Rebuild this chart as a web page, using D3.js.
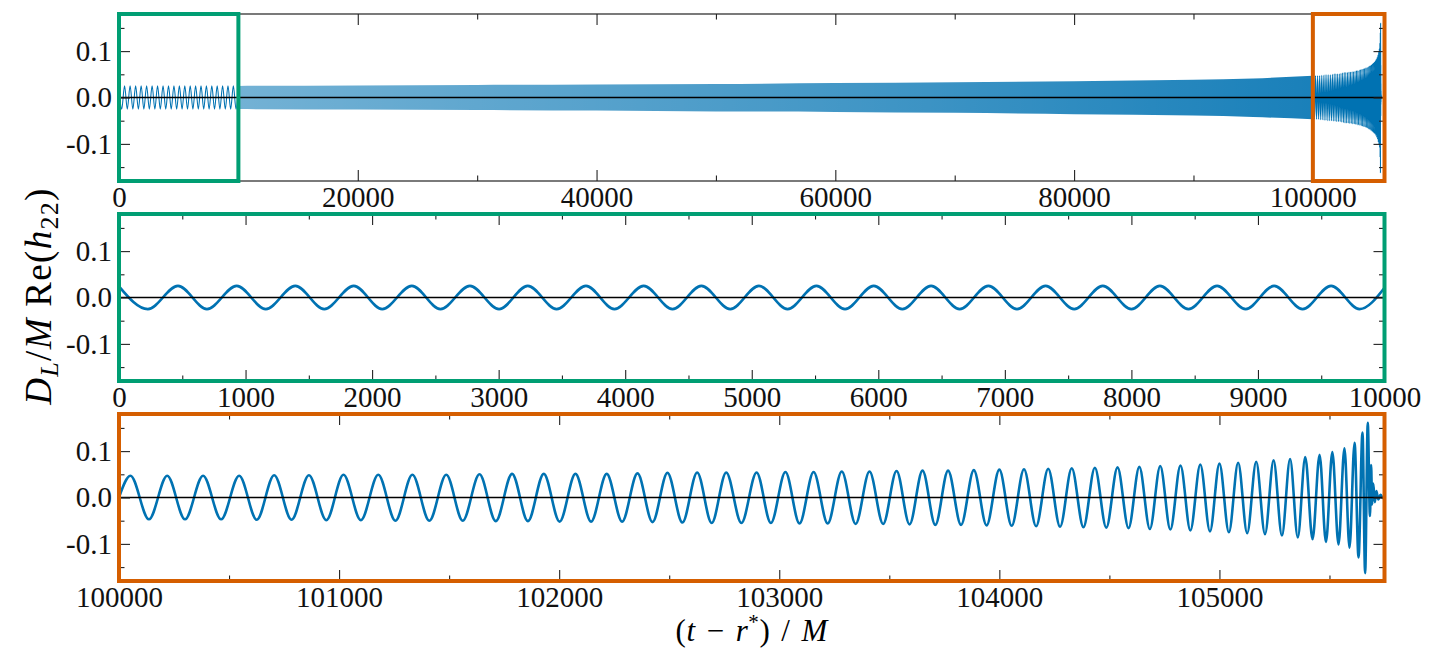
<!DOCTYPE html>
<html><head><meta charset="utf-8">
<script src="https://cdn.jsdelivr.net/npm/d3@7"></script>
<style>
body{margin:0;background:#fff;}
svg{display:block;font-family:"Liberation Serif","Times New Roman",serif;}
</style></head><body>
<svg id="chart" width="1444" height="648"></svg>
<script>
// ---------- tick values ----------
const yMajorTicks = [-0.1, 0.0, 0.1];
const yMinorTicks = [-0.15, -0.05, 0.05, 0.15];
const topMajorTicks = [0, 20000, 40000, 60000, 80000, 100000];
const topMinorTicks = [10000, 30000, 50000, 70000, 90000];
const midMajorTicks = [0, 1000, 2000, 3000, 4000, 5000, 6000, 7000, 8000, 9000, 10000];
const midMinorTicks = [500, 1500, 2500, 3500, 4500, 5500, 6500, 7500, 8500, 9500];
const lowMajorTicks = [100000, 101000, 102000, 103000, 104000, 105000];
const lowMinorTicks = [100500, 101500, 102500, 103500, 104500, 105500];

// ---------- early inspiral (0 - 10000): extrema ----------
const earlyT = [0, 228, 466, 695, 930, 1160, 1393, 1622, 1855, 2080, 2314, 2540, 2773, 3003, 3230, 3458,
  3690, 3915, 4146, 4374, 4602, 4830, 5057, 5283, 5511, 5737, 5964, 6190, 6417, 6643, 6870, 7096,
  7322, 7548, 7774, 8000, 8225, 8451, 8677, 8903, 9128, 9353, 9578, 9803, 10000];
const earlyH = [0.024, -0.025, 0.025, -0.025, 0.025, -0.025, 0.025, -0.025, 0.025, -0.025, 0.025, -0.025,
  0.025, -0.025, 0.025, -0.025, 0.025, -0.025, 0.025, -0.025, 0.025, -0.025, 0.025, -0.025, 0.025, -0.025,
  0.025, -0.025, 0.025, -0.025, 0.025, -0.025, 0.025, -0.025, 0.025, -0.025, 0.025, -0.025, 0.025, -0.025,
  0.025, -0.025, 0.025, -0.025, 0.021];

// ---------- late inspiral / merger (100000 - 105750): extrema ----------
const lateT = [100000,
  100052, 100136, 100219, 100300, 100382, 100464, 100546, 100626, 100705, 100784,
  100863, 100942, 101020, 101099, 101178, 101256, 101333, 101410, 101487, 101562,
  101638, 101712, 101786, 101858, 101930, 102002, 102074, 102145, 102216, 102286,
  102356, 102424, 102492, 102560, 102627, 102693, 102759, 102828, 102897, 102962,
  103028, 103092, 103156, 103220, 103284, 103347, 103410, 103472, 103533, 103592,
  103651, 103709, 103767, 103826, 103884, 103942, 104000, 104056, 104112, 104167,
  104222, 104276, 104329, 104382, 104434, 104486, 104537, 104587, 104636, 104684,
  104731, 104777, 104823, 104868, 104913, 104957, 105000, 105043, 105085, 105126,
  105167, 105207, 105246, 105284, 105321, 105356, 105390, 105423, 105455, 105484,
  105513, 105541, 105568, 105591, 105614, 105632, 105650, 105662,
  105674,
  105684, 105689, 105694, 105699, 105706, 105713, 105722, 105732, 105742, 105750];
const lateH = [0,
  0.047, -0.047, 0.047, -0.047, 0.047, -0.047, 0.047, -0.048, 0.048, -0.048,
  0.048, -0.049, 0.049, -0.049, 0.049, -0.050, 0.049, -0.050, 0.049, -0.050,
  0.050, -0.051, 0.051, -0.051, 0.051, -0.052, 0.051, -0.052, 0.051, -0.052,
  0.052, -0.053, 0.053, -0.054, 0.054, -0.055, 0.054, -0.055, 0.054, -0.055,
  0.055, -0.056, 0.055, -0.056, 0.056, -0.057, 0.056, -0.057, 0.057, -0.058,
  0.058, -0.059, 0.058, -0.059, 0.059, -0.060, 0.060, -0.061, 0.061, -0.062,
  0.062, -0.063, 0.063, -0.064, 0.064, -0.065, 0.065, -0.066, 0.066, -0.068,
  0.068, -0.069, 0.069, -0.071, 0.071, -0.073, 0.073, -0.075, 0.075, -0.077,
  0.077, -0.079, 0.080, -0.082, 0.083, -0.086, 0.087, -0.090, 0.092, -0.096,
  0.098, -0.101, 0.106, -0.108, 0.118, -0.129, 0.140, -0.163,
  0.161,
  -0.040, 0.070, -0.015, 0.030, -0.010, 0.014, -0.004, 0.006, -0.001, 0];

// ---------- dense middle section of the full waveform: envelope ----------
const bandT  = [10000, 20000, 30000, 40000, 50000, 60000, 70000, 80000, 90000, 95000, 100000];
const bandHi = [0.025, 0.026, 0.027, 0.028, 0.029, 0.031, 0.033, 0.035, 0.038, 0.041, 0.047];
const bandLo = [-0.025, -0.026, -0.027, -0.028, -0.030, -0.031, -0.033, -0.036, -0.039, -0.042, -0.047];

// ---------- layout ----------
const L = 119, R = 1384.5;
const panels = [{top: 14, bottom: 181}, {top: 214, bottom: 381}, {top: 414, bottom: 581}];
const BLUE = "#0072b2", GREEN = "#009e73", ORANGE = "#d55e00";
const TICKC = "#222";
const MAJ = 11, MIN = 5.5;
const TICKFONT = 29;

const svg = d3.select("#chart");

const xTop = d3.scaleLinear().domain([0, 106000]).range([L, R]);
const xMid = d3.scaleLinear().domain([0, 10000]).range([L, R]);
const xLow = d3.scaleLinear().domain([100000, 105750]).range([L, R]);
const yScales = panels.map(p => d3.scaleLinear().domain([-0.18, 0.18]).range([p.bottom, p.top]));

const early = earlyT.map((t, i) => [t, earlyH[i]]);
const late = lateT.map((t, i) => [t, lateH[i]]);
const band = bandT.map((t, i) => [t, bandHi[i], bandLo[i]]);

const defs = svg.append("defs");
panels.forEach((p, i) => {
  defs.append("clipPath").attr("id", "clip" + i)
    .append("rect").attr("x", L).attr("y", p.top).attr("width", R - L).attr("height", p.bottom - p.top);
});
const grad = defs.append("linearGradient").attr("id", "bandFill")
  .attr("gradientUnits", "userSpaceOnUse")
  .attr("x1", xTop(10000)).attr("x2", xTop(100000)).attr("y1", 0).attr("y2", 0);
grad.append("stop").attr("offset", 0).attr("stop-color", BLUE).attr("stop-opacity", 0.55);
grad.append("stop").attr("offset", 0.6).attr("stop-color", BLUE).attr("stop-opacity", 0.75);
grad.append("stop").attr("offset", 1).attr("stop-color", BLUE).attr("stop-opacity", 0.9);

function fmtInt(d) { return String(d); }

function drawAxes(g, x, y, p, major, minor) {
  const styleAxis = sel => {
    sel.select(".domain").remove();
    sel.selectAll(".tick line").attr("stroke", TICKC).attr("stroke-width", 1.1);
    sel.selectAll(".tick text").attr("fill", "#111");
    sel.attr("font-family", null).attr("font-size", TICKFONT);
  };
  g.append("g").attr("transform", `translate(0,${p.bottom})`)
    .call(d3.axisBottom(x).tickValues(major).tickSize(-MAJ).tickPadding(5.5).tickFormat(fmtInt)).call(styleAxis);
  g.append("g").attr("transform", `translate(0,${p.bottom})`)
    .call(d3.axisBottom(x).tickValues(minor).tickSize(-MIN).tickFormat("")).call(styleAxis);
  g.append("g").attr("transform", `translate(0,${p.top})`)
    .call(d3.axisTop(x).tickValues(major).tickSize(-MAJ).tickFormat("")).call(styleAxis);
  g.append("g").attr("transform", `translate(0,${p.top})`)
    .call(d3.axisTop(x).tickValues(minor).tickSize(-MIN).tickFormat("")).call(styleAxis);
  g.append("g").attr("transform", `translate(${L},0)`)
    .call(d3.axisLeft(y).tickValues(yMajorTicks).tickSize(-MAJ).tickPadding(7).tickFormat(d => d.toFixed(1))).call(styleAxis);
  g.append("g").attr("transform", `translate(${L},0)`)
    .call(d3.axisLeft(y).tickValues(yMinorTicks).tickSize(-MIN).tickFormat("")).call(styleAxis);
  g.append("g").attr("transform", `translate(${R},0)`)
    .call(d3.axisRight(y).tickValues(yMajorTicks).tickSize(-MAJ).tickFormat("")).call(styleAxis);
  g.append("g").attr("transform", `translate(${R},0)`)
    .call(d3.axisRight(y).tickValues(yMinorTicks).tickSize(-MIN).tickFormat("")).call(styleAxis);
}

// ---------- panel 1: full waveform ----------
{
  const p = panels[0], y = yScales[0], x = xTop;
  const g = svg.append("g");
  const plot = g.append("g").attr("clip-path", "url(#clip0)");
  const line = d3.line().x(d => x(d[0])).y(d => y(d[1])).curve(d3.curveMonotoneX);
  plot.append("path").datum(early).attr("d", line).attr("fill", "none").attr("stroke", BLUE).attr("stroke-width", 1.1);
  plot.append("path").datum(band)
    .attr("d", d3.area().x(d => x(d[0])).y0(d => y(d[2])).y1(d => y(d[1])).curve(d3.curveMonotoneX))
    .attr("fill", "url(#bandFill)");
  plot.append("path").datum(late).attr("d", line).attr("fill", "none").attr("stroke", BLUE).attr("stroke-width", 1.1);
  g.append("line").attr("x1", L).attr("x2", R).attr("y1", y(0)).attr("y2", y(0)).attr("stroke", "#000").attr("stroke-width", 1.3);
  drawAxes(g, x, y, p, topMajorTicks, topMinorTicks);
  g.append("rect").attr("x", L).attr("y", p.top).attr("width", R - L).attr("height", p.bottom - p.top)
    .attr("fill", "none").attr("stroke", "#222").attr("stroke-width", 1.2);
  g.append("rect").attr("x", x(0)).attr("y", p.top).attr("width", x(10000) - x(0)).attr("height", p.bottom - p.top)
    .attr("fill", "none").attr("stroke", GREEN).attr("stroke-width", 4);
  g.append("rect").attr("x", x(100000)).attr("y", p.top).attr("width", R - x(100000)).attr("height", p.bottom - p.top)
    .attr("fill", "none").attr("stroke", ORANGE).attr("stroke-width", 4);
}

// ---------- panel 2: early zoom ----------
{
  const p = panels[1], y = yScales[1], x = xMid;
  const g = svg.append("g");
  const plot = g.append("g").attr("clip-path", "url(#clip1)");
  const line = d3.line().x(d => x(d[0])).y(d => y(d[1])).curve(d3.curveMonotoneX);
  plot.append("path").datum(early).attr("d", line).attr("fill", "none").attr("stroke", BLUE).attr("stroke-width", 2.6);
  g.append("line").attr("x1", L).attr("x2", R).attr("y1", y(0)).attr("y2", y(0)).attr("stroke", "#000").attr("stroke-width", 1.3);
  drawAxes(g, x, y, p, midMajorTicks, midMinorTicks);
  g.append("rect").attr("x", L).attr("y", p.top).attr("width", R - L).attr("height", p.bottom - p.top)
    .attr("fill", "none").attr("stroke", GREEN).attr("stroke-width", 4);
}

// ---------- panel 3: merger zoom ----------
{
  const p = panels[2], y = yScales[2], x = xLow;
  const g = svg.append("g");
  const plot = g.append("g").attr("clip-path", "url(#clip2)");
  const line = d3.line().x(d => x(d[0])).y(d => y(d[1])).curve(d3.curveMonotoneX);
  plot.append("path").datum(late).attr("d", line).attr("fill", "none").attr("stroke", BLUE).attr("stroke-width", 2.6);
  g.append("line").attr("x1", L).attr("x2", R).attr("y1", y(0)).attr("y2", y(0)).attr("stroke", "#000").attr("stroke-width", 1.3);
  drawAxes(g, x, y, p, lowMajorTicks, lowMinorTicks);
  g.append("rect").attr("x", L).attr("y", p.top).attr("width", R - L).attr("height", p.bottom - p.top)
    .attr("fill", "none").attr("stroke", ORANGE).attr("stroke-width", 4);
}

// ---------- axis titles ----------
const yTitle = svg.append("text")
  .attr("transform", "translate(51,296) rotate(-90)")
  .attr("text-anchor", "middle").attr("font-size", 37).attr("letter-spacing", 1.3).attr("fill", "#000");
yTitle.append("tspan").attr("font-style", "italic").text("D");
yTitle.append("tspan").attr("font-style", "italic").attr("font-size", 26).attr("dy", 7).text("L");
yTitle.append("tspan").attr("dy", -7).text("/");
yTitle.append("tspan").attr("font-style", "italic").text("M");
yTitle.append("tspan").text(" Re(");
yTitle.append("tspan").attr("font-style", "italic").text("h");
yTitle.append("tspan").attr("font-size", 26).attr("dy", 7).text("22");
yTitle.append("tspan").attr("dy", -7).text(")");

const xTitle = svg.append("text")
  .attr("x", (L + R) / 2).attr("y", 641.3)
  .attr("text-anchor", "middle").attr("font-size", 31).attr("letter-spacing", 0.6).attr("fill", "#000");
xTitle.append("tspan").text("(");
xTitle.append("tspan").attr("font-style", "italic").text("t");
xTitle.append("tspan").text("\u2004\u2212\u2004");
xTitle.append("tspan").attr("font-style", "italic").text("r");
xTitle.append("tspan").attr("font-size", 21).attr("dy", -12).text("*");
xTitle.append("tspan").attr("dy", 12).text(")\u2004/\u2004");
xTitle.append("tspan").attr("font-style", "italic").text("M");
</script>
</body></html>
